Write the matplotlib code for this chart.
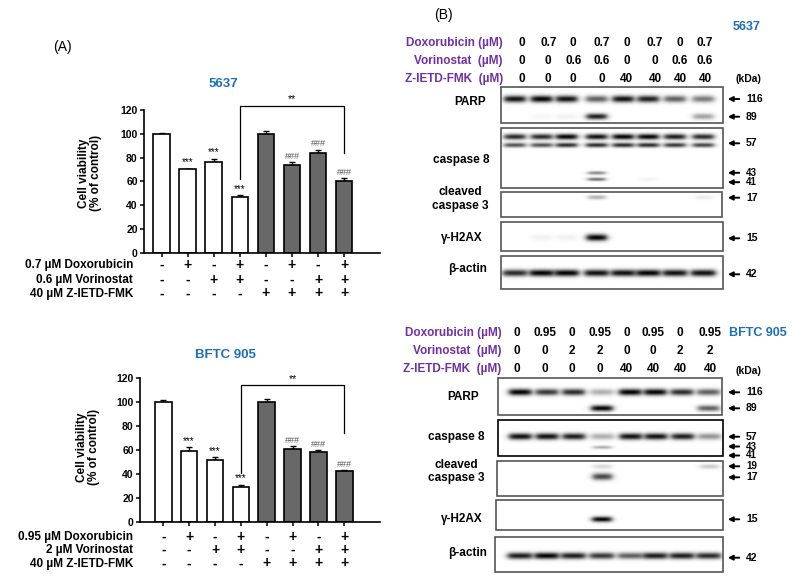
import numpy as np
import matplotlib
matplotlib.use("Agg")
import matplotlib.pyplot as plt
from matplotlib.patches import Rectangle
from matplotlib.transforms import blended_transform_factory

plt.rcParams["font.family"] = ["Liberation Sans", "DejaVu Sans"]

# ---------------- data ----------------
viability_5637 = [100, 70, 76.5, 46.5, 100, 74, 84, 60]
err_5637 = [0.5, 0.5, 2.5, 2, 2, 2, 2.5, 2.5]
viability_bftc = [100, 59, 52, 29, 100, 61, 58.5, 42.5]
err_bftc = [2, 3.5, 2, 2, 3, 2, 1.5, 0.5]
sig_marks = ["", "***", "***", "***", "", "###", "###", "###"]

dox_sign = ["-", "+", "-", "+", "-", "+", "-", "+"]
vor_sign = ["-", "-", "+", "+", "-", "-", "+", "+"]
zietd_sign = ["-", "-", "-", "-", "+", "+", "+", "+"]
rows_5637 = ["0.7 µM Doxorubicin", "0.6 µM Vorinostat", "40 µM Z-IETD-FMK"]
rows_bftc = ["0.95 µM Doxorubicin", "2 µM Vorinostat", "40 µM Z-IETD-FMK"]

dox_5637 = ["0", "0.7", "0", "0.7", "0", "0.7", "0", "0.7"]
vor_5637 = ["0", "0", "0.6", "0.6", "0", "0", "0.6", "0.6"]
dox_bftc = ["0", "0.95", "0", "0.95", "0", "0.95", "0", "0.95"]
vor_bftc = ["0", "0", "2", "2", "0", "0", "2", "2"]
zietd_conc = ["0", "0", "0", "0", "40", "40", "40", "40"]
blot_rows = ["Doxorubicin (µM)", "Vorinostat  (µM)", "Z-IETD-FMK  (µM)"]

# band intensities per lane (0 = none, 1 = black)
parp116_5637 = [0.9, 0.95, 0.9, 0.6, 0.9, 0.85, 0.6, 0.5]
parp89_5637 = [0, 0.03, 0.05, 0.85, 0, 0, 0, 0.35]
casp8_up_5637 = [0.8, 0.8, 0.95, 0.9, 0.95, 0.95, 0.85, 0.8]
casp8_lo_5637 = [0.65, 0.65, 0.8, 0.8, 0.8, 0.8, 0.75, 0.7]
casp8_43_5637 = [0, 0, 0, 0.45, 0, 0, 0, 0]
casp8_41_5637 = [0, 0, 0, 0.55, 0, 0.05, 0, 0]
casp3_17_5637 = [0, 0, 0, 0.3, 0, 0, 0, 0.08]
h2ax_5637 = [0, 0.05, 0.05, 1.0, 0, 0, 0, 0]
actin_5637 = [0.8, 0.95, 0.95, 0.9, 0.9, 0.95, 0.9, 0.9]

parp116_bftc = [0.95, 0.75, 0.8, 0.3, 1.0, 0.95, 0.8, 0.6]
parp89_bftc = [0, 0, 0, 0.95, 0, 0, 0, 0.6]
casp8_57_bftc = [0.9, 0.9, 0.85, 0.3, 0.9, 0.9, 0.85, 0.4]
casp8_43_bftc = [0, 0, 0, 0.3, 0, 0, 0, 0]
casp3_19_bftc = [0, 0, 0, 0.15, 0, 0, 0, 0.2]
casp3_17_bftc = [0, 0, 0, 0.7, 0, 0, 0, 0]
h2ax_bftc = [0, 0, 0, 1.0, 0, 0, 0, 0]
actin_bftc = [0.85, 0.95, 0.85, 0.75, 0.6, 0.85, 0.85, 0.8]

BLUE = "#1f6fb2"
PURPLE = "#7030a0"
GRAY = "#686868"

W, H = 797, 577
fig = plt.figure(figsize=(W / 100, H / 100), dpi=100)
ov = fig.add_axes([0, 0, 1, 1])
ov.axis("off")


def px_axes(l, t, r, b):
    return fig.add_axes([l / W, 1 - b / H, (r - l) / W, (b - t) / H])


def bar_panel(box, xlim, vals, errs, bracket, row_y, row_labels, title, title_xy, ylab_xy):
    ax = px_axes(*box)
    x = np.arange(8)
    colors = ["white"] * 4 + [GRAY] * 4
    ax.bar(x, vals, width=0.64, color=colors, edgecolor="black", linewidth=1.2, zorder=2)
    ax.errorbar(x, vals, yerr=[np.zeros(8), errs], fmt="none", ecolor="black",
                elinewidth=1, capsize=2.5, capthick=1, zorder=1)
    ax.set_xlim(*xlim)
    ax.set_ylim(0, 120)
    ax.set_yticks(range(0, 121, 20))
    ax.set_xticks(x)
    ax.set_xticklabels([])
    ax.tick_params(length=3, width=1.1, labelsize=7.5, pad=1.5)
    for lab in ax.get_yticklabels():
        lab.set_fontweight("bold")
    for s in ["top", "right"]:
        ax.spines[s].set_visible(False)
    for s in ["left", "bottom"]:
        ax.spines[s].set_linewidth(1.2)
    ax.patch.set_alpha(0)

    for i, m in enumerate(sig_marks):
        if not m:
            continue
        col = "black" if m == "***" else "#555555"
        ax.text(i, vals[i] + errs[i] + 1.2, m, ha="center", va="bottom",
                fontsize=7 if m == "***" else 6.5, color=col, clip_on=False)

    top, left_drop, right_drop = bracket
    ax.plot([3, 3, 7, 7], [left_drop, top, top, right_drop], color="black", lw=0.9, clip_on=False)
    ax.text(5, top + 1.0, "**", ha="center", va="bottom", fontsize=7.5, clip_on=False)

    tr = blended_transform_factory(ax.transData, ov.transData)
    for signs, y, lab in zip([dox_sign, vor_sign, zietd_sign], row_y, row_labels):
        for i, s in enumerate(signs):
            ax.text(i, y, s, transform=tr, ha="center", va="center", fontsize=10,
                    fontweight="bold", clip_on=False)
        ov.text(133, y, lab, ha="right", va="center", fontsize=8.5, fontweight="bold")

    ov.text(title_xy[0], title_xy[1], title, ha="center", va="center", color=BLUE,
            fontsize=9.5, fontweight="bold")
    ov.text(ylab_xy[0], ylab_xy[1], "Cell viability\n(% of control)", rotation=90,
            ha="center", va="center", fontsize=8.5, fontweight="bold", linespacing=1.1)
    return ax


def blot(x0, y0, x1, y1, lanes_x, bands, edge="#555555"):
    s = 3
    nx, ny = int((x1 - x0) * s), int((y1 - y0) * s)
    xx = x0 + (np.arange(nx) + 0.5) / s
    yy = y0 + (np.arange(ny) + 0.5) / s
    X, Y = np.meshgrid(xx, yy)
    img = np.zeros_like(X)
    for yc, inten, sy, hw in bands:
        for cx, a in zip(lanes_x, inten):
            if a <= 0:
                continue
            pxl = 1 / (1 + np.exp((np.abs(X - cx) - hw) / 1.8))
            pyl = np.exp(-0.5 * ((Y - yc) / sy) ** 2)
            img = 1 - (1 - img) * (1 - min(1.0, a * 1.05) * pxl * pyl)
    ov.imshow(img, cmap="gray_r", vmin=0, vmax=1, extent=(x0, x1, y1, y0),
              aspect="auto", interpolation="bilinear", zorder=1)
    ov.add_patch(Rectangle((x0, y0), x1 - x0, y1 - y0, fill=False, edgecolor=edge, lw=1.2, zorder=2))


def kda(y, label, x=725, size=7.5):
    ov.annotate("", xy=(x, y), xytext=(x + 17, y),
                arrowprops=dict(arrowstyle="-|>", color="black", lw=1.4, mutation_scale=7))
    ov.text(x + 21, y, label, ha="left", va="center", fontsize=size, fontweight="bold")


def blot_label(x, y, text):
    ov.text(x, y, text, ha="center", va="center", fontsize=8.5, fontweight="bold", linespacing=1.15)


# ---------------- panel A ----------------
ov.text(62, 47, "(A)", ha="center", va="center", fontsize=10)
bar_panel((144, 110, 380, 252.7), (-0.68, 8.38), viability_5637, err_5637,
          (123.6, 62, 84), (265, 280, 293.5), rows_5637, "5637", (223, 84), (90, 173))
bar_panel((140, 378.3, 380, 521.7), (-0.9, 8.38), viability_bftc, err_bftc,
          (114.4, 40.8, 74.5), (536.7, 550, 563.5), rows_bftc, "BFTC 905", (225, 355), (88, 447))

# ---------------- panel B, 5637 ----------------
ov.text(443, 15, "(B)", ha="center", va="center", fontsize=10)
ov.text(747, 27, "5637", ha="center", va="center", color=BLUE, fontsize=9, fontweight="bold")
lab_x = [521.7, 548.3, 573.3, 601.7, 626.7, 655, 680, 705]
for vals, y, lab in zip([dox_5637, vor_5637, zietd_conc], [43, 61, 79], blot_rows):
    ov.text(503, y, lab, ha="right", va="center", color=PURPLE, fontsize=8.5, fontweight="bold")
    for xv, v in zip(lab_x, vals):
        ov.text(xv, y, v, ha="center", va="center", fontsize=8.5, fontweight="bold")
ov.text(748, 79, "(kDa)", ha="center", va="center", fontsize=7.5, fontweight="bold")

lanes = [515, 541.7, 566.7, 596.7, 623.3, 648.3, 675, 703.3]
blot(501, 87, 723, 123, lanes, [(99, parp116_5637, 2.4, 10.5), (116.5, parp89_5637, 2.1, 10)])
blot(501, 128, 723, 187.7, lanes, [(136.7, casp8_up_5637, 2.0, 10.5), (145, casp8_lo_5637, 1.6, 10.5),
                                   (172.7, casp8_43_5637, 1.2, 8.5), (179, casp8_41_5637, 1.2, 8.5)])
blot(501, 191.7, 721.7, 216.7, lanes, [(197, casp3_17_5637, 1.5, 8.5)])
blot(501, 221.7, 723, 251, lanes, [(237.7, h2ax_5637, 2.3, 10)])
blot(501, 256, 723, 289, lanes, [(273, actin_5637, 2.4, 12)])

blot_label(470, 101.7, "PARP")
blot_label(461.7, 160, "caspase 8")
blot_label(460, 199, "cleaved\ncaspase 3")
blot_label(461.7, 237.7, "γ-H2AX")
blot_label(468, 269, "β-actin")
for y, lab in [(99, "116"), (116.7, "89"), (143.3, "57"), (197.7, "17"), (238.3, "15"), (274.3, "42")]:
    kda(y, lab)
kda(172.8, "43", size=7)
kda(182.2, "41", size=7)

# ---------------- panel B, BFTC 905 ----------------
ov.text(758, 333.3, "BFTC 905", ha="center", va="center", color=BLUE, fontsize=9, fontweight="bold")
lab_x = [516.7, 545, 571.7, 600, 626.7, 653.3, 680, 710]
for vals, y, lab in zip([dox_bftc, vor_bftc, zietd_conc], [333.3, 351, 369.3], blot_rows):
    ov.text(501.7, y, lab, ha="right", va="center", color=PURPLE, fontsize=8.5, fontweight="bold")
    for xv, v in zip(lab_x, vals):
        ov.text(xv, y, v, ha="center", va="center", fontsize=8.5, fontweight="bold")
ov.text(748, 371, "(kDa)", ha="center", va="center", fontsize=7.5, fontweight="bold")

lanes = [520, 546.7, 573.3, 601.7, 630, 655, 681.7, 708.3]
blot(497.7, 378.3, 721.7, 415, lanes, [(392.3, parp116_bftc, 2.3, 11), (408.3, parp89_bftc, 2.1, 10.5)])
blot(497.7, 420, 723, 456, lanes, [(436.5, casp8_57_bftc, 2.3, 11), (447.3, casp8_43_bftc, 1.2, 9)], edge="black")
blot(496.7, 461, 723, 495.7, lanes, [(466.5, casp3_19_bftc, 1.6, 9), (476.5, casp3_17_bftc, 2.4, 9.5)])
blot(495.7, 500, 722.7, 530, lanes, [(519.3, h2ax_bftc, 1.9, 9.5)])
blot(495, 536.7, 722.7, 571.7, lanes, [(555.5, actin_bftc, 2.3, 12)])

blot_label(463, 396.7, "PARP")
blot_label(456.7, 437.3, "caspase 8")
blot_label(456, 471.3, "cleaved\ncaspase 3")
blot_label(461.7, 519.3, "γ-H2AX")
blot_label(468, 553.3, "β-actin")
for y, lab in [(392.3, "116"), (408.3, "89"), (436.7, "57"), (477.3, "17"), (519.3, "15"), (557.7, "42")]:
    kda(y, lab)
kda(446.5, "43", size=7)
kda(455.5, "41", size=7)
kda(466.3, "19", size=7)

ov.set_xlim(0, W)
ov.set_ylim(H, 0)
fig.savefig("out.png", dpi=100)
